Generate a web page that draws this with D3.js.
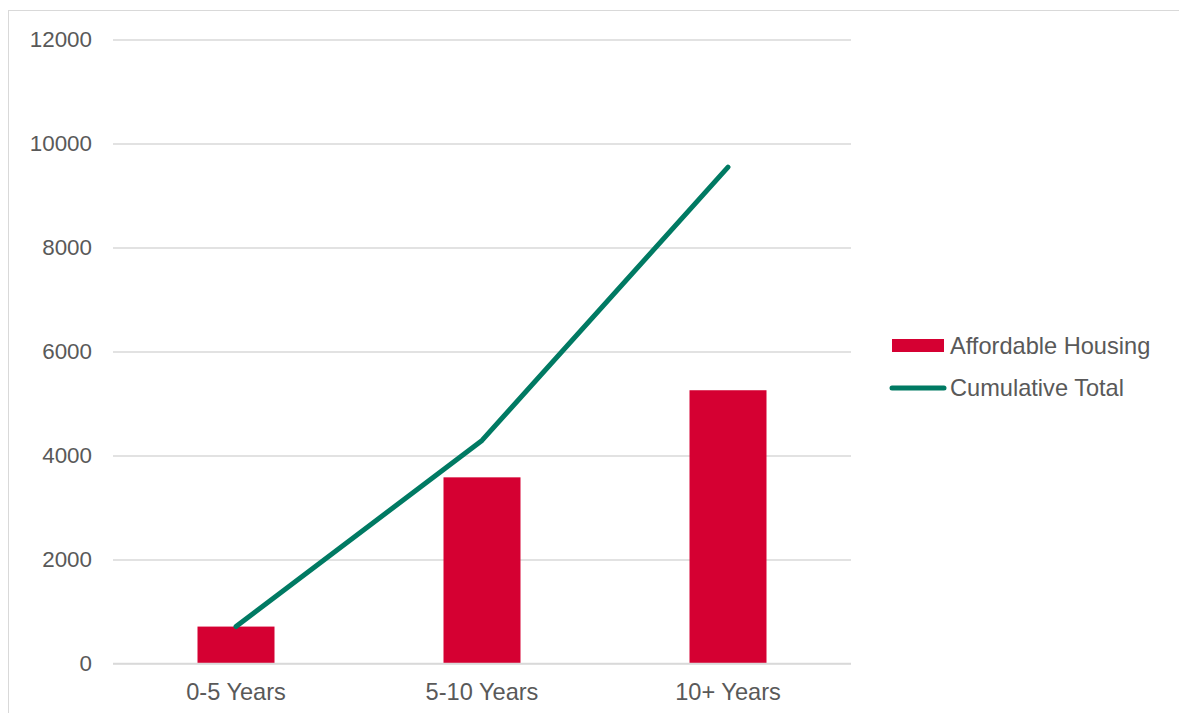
<!DOCTYPE html>
<html><head><meta charset="utf-8">
<script src="https://cdn.jsdelivr.net/npm/d3@7"></script>
<style>
html,body{margin:0;padding:0;background:#fff;}
svg{display:block;font-family:"Liberation Sans",Arial,sans-serif;}
</style></head>
<body>
<svg id="chart" width="1179" height="713"></svg>
<script>
const categories = ["0-5 Years", "5-10 Years", "10+ Years"];
const affordableHousing = [710, 3580, 5255];
const cumulativeTotal = [710, 4290, 9545];
const yTicks = [0, 2000, 4000, 6000, 8000, 10000, 12000];
const seriesNames = ["Affordable Housing", "Cumulative Total"];

const svg = d3.select("#chart");
const W = 1179, H = 713;
const margin = {left: 113, right: 328, top: 39.5, bottom: 49.5};
const plotR = W - margin.right, plotB = H - margin.bottom;

// frame
svg.append("rect").attr("x", 8.5).attr("y", 10.5).attr("width", W).attr("height", H)
  .attr("fill", "none").attr("stroke", "#d9d9d9").attr("stroke-width", 1);

const x = d3.scaleBand().domain(categories).range([margin.left, plotR]).paddingInner(0).paddingOuter(0);
const y = d3.scaleLinear().domain([0, 12000]).range([plotB, margin.top]);

// gridlines
const yAxis = d3.axisLeft(y).tickValues(yTicks).tickSize(-(plotR - margin.left)).tickPadding(21).tickFormat(d3.format("d"));
const gy = svg.append("g").attr("transform", `translate(${margin.left},0)`).call(yAxis);
gy.select(".domain").remove();
gy.selectAll(".tick line").attr("stroke", "#d9d9d9").attr("stroke-width", 1.5);
gy.selectAll(".tick text").attr("fill", "#595959").attr("font-size", 22.4)
  .attr("font-family", "'Liberation Sans',Arial,sans-serif");

// x axis
const xAxis = d3.axisBottom(x).tickSize(0).tickPadding(20);
const gx = svg.append("g").attr("transform", `translate(0,${plotB})`).call(xAxis);
gx.select(".domain").remove();
gx.selectAll(".tick text").attr("fill", "#595959").attr("font-size", 23.6)
  .attr("font-family", "'Liberation Sans',Arial,sans-serif");

// bars
const barW = x.bandwidth() * 0.313;
svg.append("g").selectAll("rect").data(affordableHousing).join("rect")
  .attr("x", (d, i) => x(categories[i]) + x.bandwidth() / 2 - barW / 2)
  .attr("y", d => y(d))
  .attr("width", barW)
  .attr("height", d => y(0) - y(d))
  .attr("fill", "#D50032");

// baseline axis line
svg.append("line").attr("x1", margin.left).attr("x2", plotR).attr("y1", y(0)).attr("y2", y(0))
  .attr("stroke", "#d9d9d9").attr("stroke-width", 1.5);

// line
const line = d3.line().x((d, i) => x(categories[i]) + x.bandwidth() / 2).y(d => y(d));
svg.append("path").datum(cumulativeTotal).attr("d", line)
  .attr("fill", "none").attr("stroke", "#007A63").attr("stroke-width", 5)
  .attr("stroke-linecap", "round").attr("stroke-linejoin", "round");

// legend
const lg = svg.append("g");
lg.append("rect").attr("x", 892).attr("y", 339).attr("width", 52).attr("height", 13).attr("fill", "#D50032");
lg.append("text").attr("x", 950).attr("y", 353.5).text(seriesNames[0])
  .attr("fill", "#595959").attr("font-size", 23.6);
lg.append("line").attr("x1", 892).attr("x2", 944).attr("y1", 388).attr("y2", 388)
  .attr("stroke", "#007A63").attr("stroke-width", 5).attr("stroke-linecap", "round");
lg.append("text").attr("x", 950).attr("y", 395.5).text(seriesNames[1])
  .attr("fill", "#595959").attr("font-size", 23.6);
</script>
</body></html>
